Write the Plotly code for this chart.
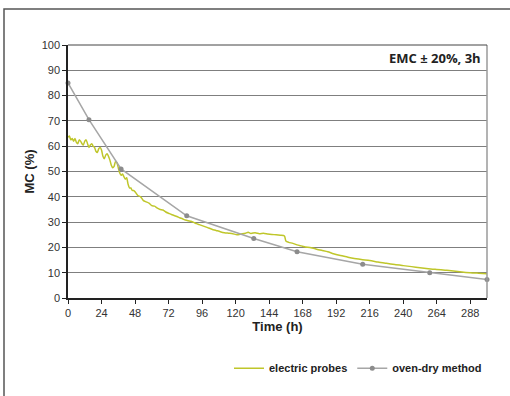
import plotly.graph_objects as go

# Electric probes
probe_t = [0, 1, 2, 3, 4, 5, 6, 7, 8, 9, 10, 11, 12, 13, 14, 15, 16, 17, 18, 19, 20,
           21, 22, 23, 24, 25, 26, 27, 28, 29, 30, 31, 32, 33, 34, 35, 36, 37, 38, 39,
           40, 41, 42, 43, 44, 45, 46, 47, 48, 50, 52, 54, 56, 58, 60, 62, 64, 66, 68,
           70, 72, 74, 76, 78, 80, 82, 84, 86, 88, 90, 92, 94, 96, 98, 100, 103, 106,
           109, 112, 115, 118, 121, 124, 127, 129, 131, 134, 137, 140, 143, 146, 149,
           152, 155, 156, 158, 161, 164, 167, 170, 174, 178, 182, 186, 190, 195, 200,
           204, 210, 216, 222, 228, 234, 240, 246, 252, 258, 264, 270, 276, 282, 288,
           294, 300]
probe_mc = [63.5, 64, 62.5, 63, 62, 63, 61.5, 61, 62.5, 62, 61, 60.5, 62, 62.5, 61,
            59.5, 60.5, 61, 60, 59.5, 58, 57.5, 59, 59.5, 58.5, 56, 55, 56.5, 57, 56,
            54.5, 52.5, 51.5, 52, 54, 53.5, 51.5, 49.5, 48.5, 49, 48, 47, 47.5, 45,
            43.5, 43.5, 42.5, 42.5, 42, 40.5, 40, 38.5, 38, 37.5, 36.5, 36.3, 35.5, 35,
            34.8, 34, 33.5, 33, 32.6, 32.2, 31.7, 31.3, 30.8, 30.5, 30.3, 29.9, 29.4,
            29, 28.6, 28.2, 27.8, 27.2, 26.7, 26.2, 25.8, 25.6, 25.4, 25, 25.3, 25.6,
            26, 25.5, 25.8, 25.4, 25.6, 25.3, 25.1, 25, 24.8, 24.5, 22.5, 22, 21.6, 21,
            20.6, 20.2, 19.9, 19.3, 18.8, 18.3, 17.5, 16.8, 16.2, 15.7, 15.2, 14.8,
            14.2, 13.7, 13.2, 12.8, 12.4, 12, 11.6, 11.3, 11, 10.7, 10.3, 10, 9.8, 9.6]

# Oven-dry method
oven_t = [0, 15, 38, 85, 133, 164, 211, 259, 300]
oven_mc = [85, 70.5, 51, 32.5, 23.5, 18.3, 13.3, 10, 7.3]

x_ticks = list(range(0, 289, 24))
y_ticks = list(range(0, 101, 10))

tick_font = dict(family="Liberation Sans Narrow, Liberation Sans, Arial", size=11, color="#333333")

fig = go.Figure()
fig.add_trace(go.Scatter(
    x=probe_t, y=probe_mc, mode="lines", name="<b>electric probes</b>",
    line=dict(color="#bfc62a", width=1.5, shape="spline", smoothing=0.6)))
fig.add_trace(go.Scatter(
    x=oven_t, y=oven_mc, mode="lines+markers", name="<b>oven-dry method</b>",
    line=dict(color="#a6a6a6", width=1.5),
    marker=dict(color="#8c8c8c", size=5), cliponaxis=False))

fig.update_layout(
    width=510, height=396,
    margin=dict(l=68, r=23, t=45, b=98),
    paper_bgcolor="white", plot_bgcolor="white",
    showlegend=True,
    legend=dict(orientation="h", x=1.0, xanchor="right", y=-0.22, yanchor="top",
                font=dict(family="Liberation Sans, Arial", size=11, color="#222222"),
                itemwidth=30, traceorder="normal", tracegroupgap=0),
    xaxis=dict(range=[0, 300], tickvals=x_ticks, ticks="outside", ticklen=4,
               tickcolor="#222222", showline=True, linecolor="#222222", linewidth=1.5,
               showgrid=False, zeroline=False, tickfont=tick_font, mirror=False,
               title=dict(text="<b>Time (h)</b>", standoff=4,
                          font=dict(family="Liberation Sans, Arial", size=13, color="#222222"))),
    yaxis=dict(range=[0, 100], tickvals=y_ticks, ticks="outside", ticklen=4,
               tickcolor="#222222", showline=True, linecolor="#222222", linewidth=1.5,
               showgrid=True, gridcolor="#7f7f7f", gridwidth=1, zeroline=False,
               tickfont=tick_font,
               title=dict(text="<b>MC (%)</b>", standoff=4,
                          font=dict(family="Liberation Sans, Arial", size=13, color="#222222"))),
    annotations=[dict(text="<b>EMC ± 20%, 3h</b>", xref="paper", yref="paper",
                      x=0.99, y=0.95, xanchor="right", yanchor="middle", showarrow=False,
                      font=dict(family="Open Sans, Liberation Sans", size=13, color="#222222"))],
    shapes=[
        dict(type="line", xref="paper", yref="paper", x0=1, x1=1, y0=0, y1=1,
             line=dict(color="#9a9a9a", width=1.5)),
        dict(type="line", xref="paper", yref="paper", x0=0, x1=1, y0=1, y1=1,
             line=dict(color="#444444", width=1)),
        dict(type="rect", xref="paper", yref="paper",
             x0=-64/419, x1=1.2, y0=-1.0, y1=1 + 36/253,
             line=dict(color="#555555", width=1.5), fillcolor="rgba(0,0,0,0)", layer="below"),
    ],
)

fig.write_html("out.html", config={"displayModeBar": False},
               post_script="document.body.style.margin='0px';document.body.style.overflow='hidden';")
